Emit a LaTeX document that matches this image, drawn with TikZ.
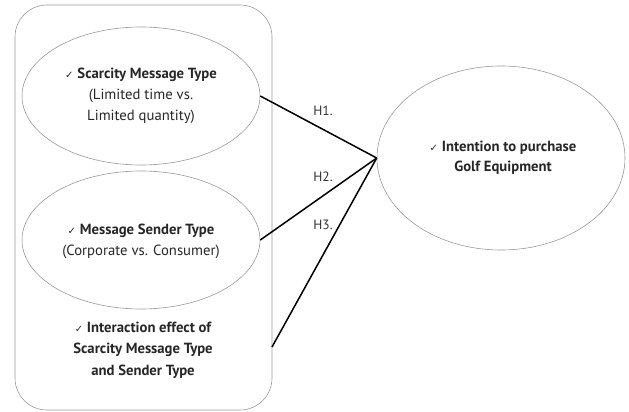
\documentclass[tikz,border=0pt]{standalone}
\usepackage{fontspec}
\setmainfont{PT Sans}
\newfontfamily\dejavu{DejaVu Sans}
\usetikzlibrary{shapes.geometric}
\newcommand{\chk}{{\dejavu\fontsize{10}{10}\selectfont ✓}\ }
\begin{document}
\begin{tikzpicture}[x=1pt,y=-1pt,
  oval/.style={draw=gray!80, line width=0.6pt, ellipse, inner sep=0pt, align=center},
  link/.style={draw=black, line width=1.5pt},
  hlab/.style={font=\fontsize{13.5}{12}\selectfont, text=black!80, inner sep=0pt},
  txt/.style={font=\fontsize{14.7}{21}\selectfont, align=center, inner sep=0pt, text=black!85}]
\useasboundingbox (0,0) rectangle (629,412);
\node[draw=gray!80, line width=0.6pt, rounded corners=32pt, minimum width=257pt, minimum height=405pt, inner sep=0pt] (box) at (143.5,207.5) {};
\node[oval, minimum width=238pt, minimum height=138pt] (scar) at (141,96) {};
\node[txt] (scart) at (141,96) {\chk\textbf{Scarcity Message Type}\\(Limited time vs.\\Limited quantity)};
\node[oval, minimum width=238pt, minimum height=138pt] (send) at (141,240) {};
\node[txt] (sendt) at (141,241) {\chk\textbf{Message Sender Type}\\(Corporate vs. Consumer)};
\node[txt, font=\fontsize{14.7}{21.5}\selectfont\bfseries] (inter) at (143,350) {\chk Interaction effect of\\Scarcity Message Type\\and Sender Type};
\node[oval, minimum width=248pt, minimum height=184pt] (goal) at (501,158) {};
\node[txt, font=\fontsize{14.7}{20}\selectfont\bfseries] (goalt) at (503,158) {\chk Intention to purchase\\Golf Equipment};
\coordinate (h3s) at (272,347);
\draw[link] (scar.east) -- (goal.west);
\draw[link] (send.east) -- (goal.west);
\draw[link] (h3s) -- (goal.west);
\node[hlab] (h1) at (323,111) {H1.};
\node[hlab] (h2) at (323,177) {H2.};
\node[hlab] (h3) at (323,225) {H3.};
\end{tikzpicture}
\end{document}
